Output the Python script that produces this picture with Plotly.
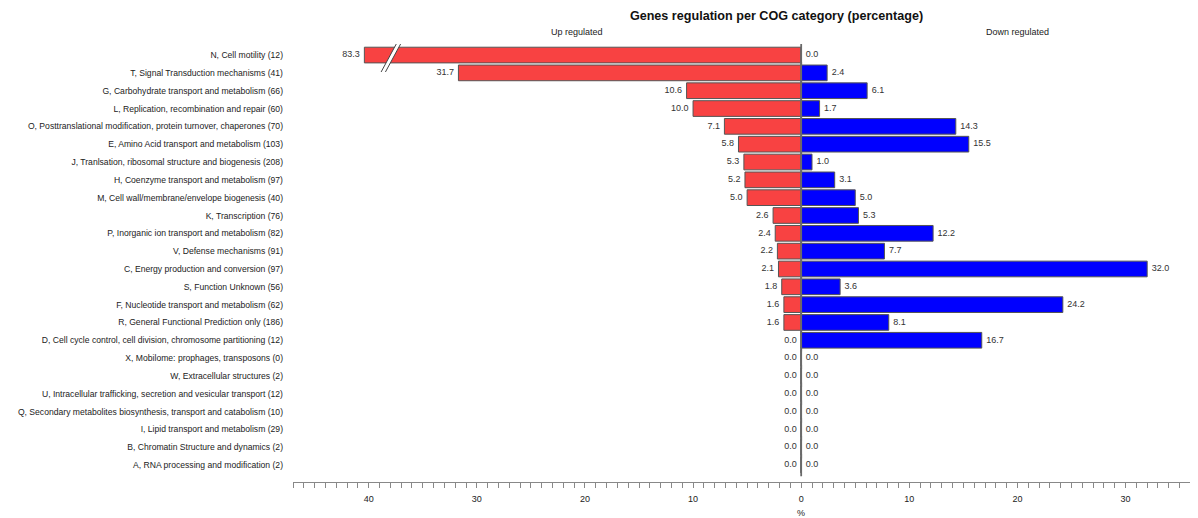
import plotly.graph_objects as go

categories = [
    "N, Cell motility (12)",
    "T, Signal Transduction mechanisms (41)",
    "G, Carbohydrate transport and metabolism (66)",
    "L, Replication, recombination and repair (60)",
    "O, Posttranslational modification, protein turnover, chaperones (70)",
    "E, Amino Acid transport and metabolism (103)",
    "J, Tranlsation, ribosomal structure and biogenesis (208)",
    "H, Coenzyme transport and metabolism (97)",
    "M, Cell wall/membrane/envelope biogenesis (40)",
    "K, Transcription (76)",
    "P, Inorganic ion transport and metabolism (82)",
    "V, Defense mechanisms (91)",
    "C, Energy production and conversion (97)",
    "S, Function Unknown (56)",
    "F, Nucleotide transport and metabolism (62)",
    "R, General Functional Prediction only (186)",
    "D, Cell cycle control, cell division, chromosome partitioning (12)",
    "X, Mobilome: prophages, transposons (0)",
    "W, Extracellular structures (2)",
    "U, Intracellular trafficking, secretion and vesicular transport (12)",
    "Q, Secondary metabolites biosynthesis, transport and catabolism (10)",
    "I, Lipid transport and metabolism (29)",
    "B, Chromatin Structure and dynamics (2)",
    "A, RNA processing and modification (2)",
]
up_regulated = [83.3, 31.7, 10.6, 10.0, 7.1, 5.8, 5.3, 5.2, 5.0, 2.6, 2.4, 2.2, 2.1, 1.8, 1.6, 1.6,
                0.0, 0.0, 0.0, 0.0, 0.0, 0.0, 0.0, 0.0]
down_regulated = [0.0, 2.4, 6.1, 1.7, 14.3, 15.5, 1.0, 3.1, 5.0, 5.3, 12.2, 7.7, 32.0, 3.6, 24.2, 8.1,
                  16.7, 0.0, 0.0, 0.0, 0.0, 0.0, 0.0, 0.0]
tick_values = [-40, -30, -20, -10, 0, 10, 20, 30]
tick_labels = ["40", "30", "20", "10", "0", "10", "20", "30"]

AXIS_CAP = 40.4          # bars longer than this are drawn broken
X_RANGE = [-47.0, 36.7]
FONT = "Liberation Sans, Arial, Helvetica, sans-serif"
RED = "#F84242"
BLUE = "#0000FF"
EDGE = "#555555"
FIG_W, FIG_H = 1190, 510   # page body has an 8px margin
PAD = "\u2002"

pos = list(range(len(categories)))
up_drawn = [-min(v, AXIS_CAP) for v in up_regulated]

fig = go.Figure()
fig.add_trace(go.Bar(y=pos, x=up_drawn, orientation="h", width=0.88,
                     marker=dict(color=RED, line=dict(color=EDGE, width=1)),
                     hoverinfo="skip", showlegend=False))
fig.add_trace(go.Bar(y=pos, x=down_regulated, orientation="h", width=0.88,
                     marker=dict(color=BLUE, line=dict(color=EDGE, width=1)),
                     hoverinfo="skip", showlegend=False))
# zero-position segment for each row
fig.add_trace(go.Scatter(y=pos, x=[0] * len(pos), mode="markers",
                         marker=dict(symbol="line-ns", size=16, line=dict(color="#6a6a6a", width=1.8)),
                         hoverinfo="skip", showlegend=False))
# value labels
fig.add_trace(go.Scatter(y=pos, x=up_drawn, mode="text",
                         text=[f"{v:.1f}{PAD}" for v in up_regulated], textposition="middle left",
                         textfont=dict(family=FONT, size=9, color="#333333"),
                         hoverinfo="skip", showlegend=False))
fig.add_trace(go.Scatter(y=pos, x=down_regulated, mode="text",
                         text=[f"{PAD}{v:.1f}" for v in down_regulated], textposition="middle right",
                         textfont=dict(family=FONT, size=9, color="#333333"),
                         hoverinfo="skip", showlegend=False))

# axis break mark on the truncated bar
bx_top, bx_bot, by_top, by_bot, gap = -37.2, -38.85, -0.9, 0.95, 0.4
fig.add_shape(type="path", xref="x", yref="y",
              path=f"M{bx_top},{by_top} L{bx_top+gap},{by_top} L{bx_bot+gap},{by_bot} L{bx_bot},{by_bot} Z",
              fillcolor="white", line=dict(width=0))
for off in (0, gap):
    fig.add_shape(type="line", xref="x", yref="y",
                  x0=bx_top + off, y0=by_top, x1=bx_bot + off, y1=by_bot,
                  line=dict(color="#444444", width=1))

fig.add_annotation(x=-20.7, xref="x", y=1, yref="paper", yanchor="bottom", yshift=5,
                   text="Up regulated", showarrow=False,
                   font=dict(family=FONT, size=9, color="#222222"))
fig.add_annotation(x=20.0, xref="x", y=1, yref="paper", yanchor="bottom", yshift=5,
                   text="Down regulated", showarrow=False,
                   font=dict(family=FONT, size=9, color="#222222"))
fig.add_annotation(x=0, xref="x", y=0, yref="paper", yanchor="middle", yshift=-31,
                   text="%", showarrow=False,
                   font=dict(family=FONT, size=9, color="#222222"))

fig.update_layout(
    width=FIG_W, height=FIG_H,
    margin=dict(l=285, r=0, t=36, b=36, autoexpand=False),
    paper_bgcolor="white", plot_bgcolor="white",
    barmode="overlay", bargap=0.1,
    font=dict(family=FONT, size=9, color="#222222"),
    title=dict(text="<b>Genes regulation per COG category (percentage)</b>",
               x=768.5 / FIG_W, xanchor="center", y=1 - 8 / FIG_H, yanchor="middle",
               font=dict(family=FONT, size=12.6, color="#111111")),
)
fig.update_xaxes(range=X_RANGE, tickmode="array", tickvals=tick_values, ticktext=tick_labels,
                 showgrid=False, zeroline=False, showline=True, linecolor="#888888", linewidth=1,
                 ticks="outside", ticklen=5, tickcolor="#888888", ticklabelstandoff=3,
                 tickfont=dict(family=FONT, size=9, color="#222222"), automargin=False,
                 minor=dict(tickmode="array", tickvals=list(range(-47, 37)),
                            ticks="outside", ticklen=5, tickcolor="#888888", showgrid=False))
fig.update_yaxes(range=[23.95, -0.62], tickmode="array", tickvals=pos, ticktext=categories,
                 showgrid=False, zeroline=False, showline=False, ticks="", automargin=False,
                 ticklabelstandoff=9,
                 tickfont=dict(family=FONT, size=8.6, color="#222222"))

fig.write_html("out.html")
